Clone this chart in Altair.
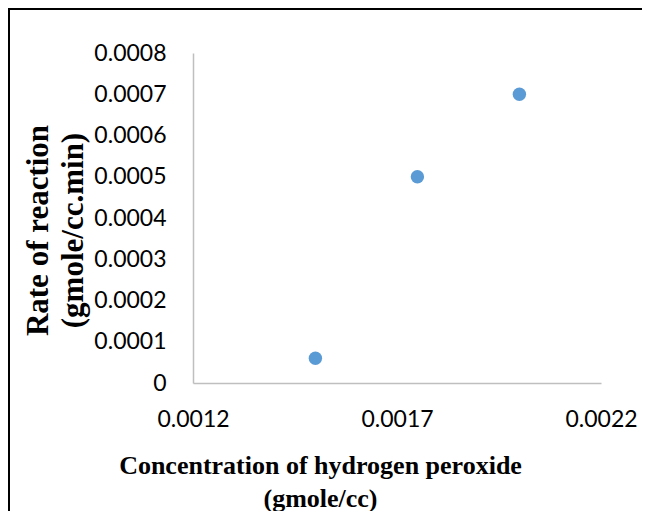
import altair as alt
import pandas as pd

# data
concentration = [0.0015, 0.00175, 0.0020]
rate = [0.00006, 0.0005, 0.0007]

x_ticks = [0.0012, 0.0017, 0.0022]
y_ticks = [0, 0.0001, 0.0002, 0.0003, 0.0004, 0.0005, 0.0006, 0.0007, 0.0008]

df = pd.DataFrame({"conc": concentration, "rate": rate})
frame_df = pd.DataFrame({"k": [0]})

W, H = 408, 330
TICK_FONT = "Lato"
TITLE_FONT = "Liberation Serif"

# outer chart border (top and left edges only are visible in the reference)
top_edge = alt.Chart(frame_df).mark_rule(color="black", strokeWidth=2, strokeCap="butt").encode(
    x=alt.value(-185), x2=alt.value(W + 48), y=alt.value(-44),
)
left_edge = alt.Chart(frame_df).mark_rule(color="black", strokeWidth=2, strokeCap="butt").encode(
    x=alt.value(-184), y=alt.value(-45), y2=alt.value(H + 140),
)

points = alt.Chart(df).mark_circle(size=180, color="#5B9BD5", opacity=1).encode(
    x=alt.X(
        "conc:Q",
        scale=alt.Scale(domain=[0.0012, 0.0022], nice=False, zero=False),
        axis=alt.Axis(
            values=x_ticks, format=".4~f", grid=False, ticks=False,
            domainColor="#BFBFBF", domainWidth=1.5,
            labelFont=TICK_FONT, labelFontSize=23, labelColor="black",
            labelPadding=25, labelFlush=False, labelOverlap=False,
            title=["Concentration of hydrogen peroxide", "(gmole/cc)"],
            titleFont=TITLE_FONT, titleFontSize=26, titleFontWeight="bold",
            titleColor="black", titleLineHeight=33,
            titleX=127, titleY=90, titleAlign="center",
            titleBaseline="alphabetic", titleAnchor="start",
        ),
    ),
    y=alt.Y(
        "rate:Q",
        scale=alt.Scale(domain=[0, 0.0008], nice=False),
        axis=alt.Axis(
            values=y_ticks, format=".4~f", grid=False, ticks=False,
            domainColor="#BFBFBF", domainWidth=1.5,
            labelFont=TICK_FONT, labelFontSize=23, labelColor="black",
            labelPadding=27, labelFlush=False, labelOverlap=False,
            title=["Rate of reaction", "(gmole/cc.min)"],
            titleFont=TITLE_FONT, titleFontSize=31, titleFontWeight="bold",
            titleColor="black", titleLineHeight=35,
            titleX=-146, titleY=177, titleAngle=270, titleAlign="center",
            titleBaseline="alphabetic", titleAnchor="start",
        ),
    ),
)

chart = alt.layer(top_edge, left_edge, points).properties(
    width=W,
    height=H,
    autosize=alt.AutoSizeParams(type="none"),
    padding={"left": 185, "top": 45, "right": 41, "bottom": 128},
    background="white",
).configure_view(strokeWidth=0)

chart.save("out.html", embed_options={"renderer": "svg", "actions": False})
